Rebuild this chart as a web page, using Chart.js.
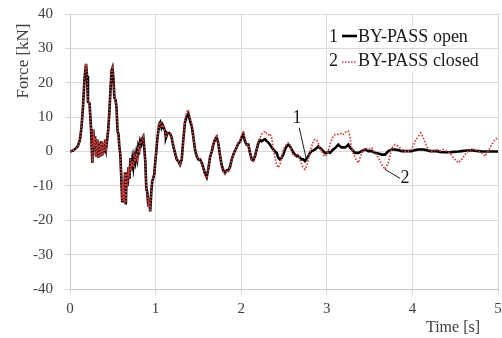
<!DOCTYPE html>
<html>
<head>
<meta charset="utf-8">
<script src="https://cdn.jsdelivr.net/npm/chart.js@4.4.1/dist/chart.umd.min.js"></script>
<style>
  html, body { margin: 0; padding: 0; background: #fff; }
  #wrap { width: 502px; height: 338px; }
</style>
</head>
<body>
<div id="wrap"><canvas id="force"></canvas></div>
<script>
// time [s]
var timeS = [
  0, 0.035, 0.058, 0.093, 0.117, 0.134, 0.152, 0.169, 0.187, 0.199,
  0.210, 0.228, 0.245, 0.261, 0.272, 0.283, 0.292, 0.304, 0.319, 0.331,
  0.342, 0.353, 0.364, 0.376, 0.388, 0.400, 0.411, 0.423, 0.435, 0.447,
  0.459, 0.471, 0.485, 0.496, 0.508, 0.518, 0.532, 0.543, 0.555, 0.567,
  0.576, 0.588, 0.599, 0.610, 0.619, 0.631, 0.643, 0.652, 0.662, 0.674,
  0.683, 0.694, 0.706, 0.716, 0.728, 0.739, 0.751, 0.763, 0.775, 0.786,
  0.798, 0.810, 0.821, 0.833, 0.845, 0.856, 0.868, 0.880, 0.891, 0.903,
  0.915, 0.926, 0.937, 0.949, 0.961, 0.973, 0.985, 0.996, 1.008, 1.020,
  1.032, 1.043, 1.055, 1.069, 1.081, 1.092, 1.110, 1.121, 1.137, 1.160,
  1.176, 1.188, 1.207, 1.227, 1.246, 1.265, 1.285, 1.305, 1.324, 1.343,
  1.363, 1.382, 1.402, 1.422, 1.440, 1.460, 1.480, 1.499, 1.519, 1.539,
  1.557, 1.577, 1.597, 1.616, 1.636, 1.655, 1.674, 1.694, 1.714, 1.732,
  1.752, 1.772, 1.791, 1.811, 1.831, 1.849, 1.869, 1.889, 1.908, 1.928,
  1.947, 1.966, 1.986, 2.006, 2.025, 2.044, 2.064, 2.083, 2.103, 2.123,
  2.141, 2.161, 2.181, 2.200, 2.220, 2.239, 2.258, 2.278, 2.298, 2.317,
  2.336, 2.356, 2.375, 2.395, 2.414, 2.433, 2.453, 2.473, 2.492, 2.512,
  2.531, 2.550, 2.570, 2.590, 2.609, 2.629, 2.648, 2.667, 2.687, 2.707,
  2.726, 2.745, 2.765, 2.784, 2.804, 2.824, 2.842, 2.862, 2.882, 2.901,
  2.921, 2.940, 2.959, 2.979, 2.999, 3.018, 3.037, 3.057, 3.076, 3.096,
  3.116, 3.134, 3.154, 3.174, 3.193, 3.213, 3.232, 3.251, 3.271, 3.291,
  3.329, 3.368, 3.408, 3.446, 3.485, 3.525, 3.563, 3.602, 3.641, 3.680,
  3.718, 3.758, 3.797, 3.835, 3.875, 3.914, 3.952, 3.992, 4.030, 4.069,
  4.097, 4.127, 4.167, 4.206, 4.244, 4.284, 4.322, 4.361, 4.401, 4.439,
  4.478, 4.536, 4.576, 4.614, 4.653, 4.693, 4.731, 4.770, 4.810, 4.848,
  4.887, 4.926, 4.965, 5.000
];

// 1 - BY-PASS open [kN]
var forceOpen = [
  0, 0.3, 0.7, 1.6, 3.5, 7, 13, 21, 25.5, 22,
  14.5, 14, 7, -3.3, 6.4, 1, 4.5, -1.5, 3.5, -1.8,
  2.5, -1.5, 3, -1.2, 2.5, -0.5, 3.5, 1, 3.5, 6.5,
  11, 17, 23.5, 24.3, 21, 15.7, 15, 13, 6, 5,
  1.5, -1, -7.5, -14.4, -8.5, -15, -6, -15.4, -6, -10,
  -4.5, -8, -2, -5.5, -2.5, -4.5, -1.5, -3, -0.5, -2,
  1.5, 0.5, 3, 2.2, 3.8, 4.3, 1, -3, -10.5, -12,
  -16, -13.5, -17.4, -12, -8.5, -7.8, -6.5, -3, 0, 3.5,
  6, 8, 8.5, 7, 7.8, 7.2, 6, 4, 5.2, 5.4,
  4.9, 4, 1.5, -0.4, -2.3, -2.8, -3.8, -2.3, 3.5, 8.5,
  10.3, 11, 9, 7.4, 4.4, 0.6, -1.4, -2.3, -2.3, -3.3,
  -4.7, -6.5, -7.5, -5, -1.6, -0.1, 2, 3.5, 4.2, 2.5,
  -1, -4, -5.5, -6.2, -5.5, -5.5, -4.5, -2.3, -0.9, 0.3,
  1.2, 2.3, 2.8, 4.2, 5, 3, 2, 2, -0.4, -2.3,
  -2.6, -1.4, 0.6, 2.5, 3.3, 3, 3.3, 3.6, 3, 2.6,
  2, 1.2, 0.6, 0, -0.4, -1.8, -2.3, -1.8, -0.9, 0.6,
  1.5, 2, 1.5, 0.6, -0.3, -0.9, -1.4, -1.4, -1.8, -2.3,
  -2.3, -2.8, -2, -1.4, -0.4, 0.1, 0.3, 0.6, 1, 1.5,
  1, 0.6, 0.1, -0.4, -0.4, -0.1, -0.4, 0.1, 0.6, 1,
  1.5, 2, 1.5, 1.2, 1.2, 1.2, 1.5, 2, 1.2, 0.6,
  -0.4, -0.4, 0.1, 0.6, 0.1, 0.1, -0.4, -0.6, -0.9, -0.9,
  0.1, 0.6, 0.6, 0.4, 0.1, 0.1, 0.1, 0.1, 0.4, 0.6,
  0.6, 0.6, 0.4, 0.1, 0.1, 0.1, -0.1, -0.2, -0.2, -0.2,
  -0.1, 0, 0.1, 0.2, 0.3, 0.4, 0.2, 0.1, 0, 0,
  0, 0, 0, 0
];

// 2 - BY-PASS closed [kN]
var forceClosed = [
  0, 0.3, 0.7, 1.6, 3.5, 7, 13, 21, 25.5, 22,
  14.5, 14, 7, -3.3, 6.4, 1, 4.5, -1.5, 3.5, -1.8,
  2.5, -1.5, 3, -1.2, 2.5, -0.5, 3.5, 1, 3.5, 6.5,
  11, 17, 23.5, 24.3, 21, 15.7, 15, 13, 6, 5,
  1.5, -1, -7.5, -14.4, -8.5, -15, -6, -15.4, -6, -10,
  -4.5, -8, -2, -5.5, -2.5, -4.5, -1.5, -3, -0.5, -2,
  1.5, 0.5, 3, 2.2, 3.8, 4.3, 1, -3, -10.5, -12,
  -16, -13.5, -17.4, -12, -8.5, -7.8, -6.5, -3, 0, 3.5,
  6, 8, 8.5, 7, 7.8, 7.2, 6, 4, 5.2, 5.4,
  4.9, 4, 1.5, -0.4, -2.3, -2.8, -3.8, -2.3, 3.5, 9,
  11.5, 12.2, 10, 8, 4.4, 0.6, -1.4, -2.3, -2.3, -3.3,
  -4.7, -6.8, -7.8, -5, -1.6, -0.1, 2, 3.5, 4.8, 2.5,
  -1, -4, -5.8, -6.6, -5.5, -5.8, -4.5, -2.3, -0.9, 0.3,
  1.2, 2.3, 2.8, 4.8, 6, 3.5, 2, 2, -0.4, -2.6,
  -2.8, -1.4, 0.6, 3, 4, 5, 5.5, 5.9, 5.2, 4.8,
  5.2, 4, 0.5, -1.8, -3.8, -4.7, -3.8, -1.5, 0.5, 1.5,
  2, 2.5, 2, 0, -1.3, -1.2, -0.9, -1, -2.3, -3.8,
  -4.7, -5.2, -4.3, -2.3, 0.1, 1.5, 3, 3.5, 3.3, 2.5,
  1, 0.1, -0.9, -1.4, -0.9, 0.1, 2, 3.5, 4.4, 4.9,
  5, 5, 5, 5.4, 5, 5.5, 5.8, 5.9, 4.4, 0.6,
  -1.8, -3.3, -0.5, 1, 0.6, 1, -0.4, -1.8, -3.8, -5.2,
  -3.3, 1, 2, 1.5, 0.6, 0.1, 0.1, 0.6, 3, 4.4,
  5.4, 4, 1.5, 0.1, 0.1, 0.6, 0.1, 0.6, 0.1, -0.4,
  -1.8, -3.3, -2.3, -0.9, 0.1, 0.6, 0.6, 0.1, -0.4, -1.4,
  0.1, 2, 3.5, 4
];

var seriesNames = ['BY-PASS open', 'BY-PASS closed'];
var seriesNumbers = ['1', '2'];
var axisTitles = ['Time [s]', 'Force [kN]'];

var serif = '"Liberation Serif", "Times New Roman", serif';
var gridGray = '#d9d9d9';
var textGray = '#404040';
var redDot = 'rgb(214, 64, 64)';

function pairs(xs, ys) {
  return xs.map(function (x, i) { return { x: x, y: ys[i] }; });
}

// legend, curve numbers and axis titles (Excel style)
var textPlugin = {
  id: 'textPlugin',
  afterDraw: function (chart) {
    var c = chart.ctx;
    var sx = chart.scales.x, sy = chart.scales.y;
    c.save();
    c.textBaseline = 'middle';

    // axis titles
    c.font = '16px ' + serif;
    c.fillStyle = textGray;
    c.textAlign = 'center';
    c.fillText(axisTitles[0], 453, 328);
    c.save();
    c.font = '17px ' + serif;
    c.translate(24, 61);
    c.rotate(-Math.PI / 2);
    c.fillText(axisTitles[1], 0, 0);
    c.restore();

    // legend
    c.font = '18px ' + serif;
    c.fillStyle = '#fff';
    c.fillRect(329, 26, 160, 21);
    c.fillRect(329, 50, 160, 22);
    c.fillStyle = '#1a1a1a';
    c.textAlign = 'left';
    c.fillText(seriesNumbers[0], 329, 37);
    c.fillText(seriesNames[0], 358, 37);
    c.fillText(seriesNumbers[1], 329, 61);
    c.fillText(seriesNames[1], 358, 61);
    c.strokeStyle = '#000';
    c.lineWidth = 2.6;
    c.beginPath(); c.moveTo(342, 36); c.lineTo(357, 36); c.stroke();
    c.strokeStyle = redDot;
    c.lineWidth = 1.6;
    c.setLineDash([1.5, 1.5]);
    c.beginPath(); c.moveTo(342, 62); c.lineTo(357, 62); c.stroke();
    c.setLineDash([]);

    // curve numbers with leader lines
    c.strokeStyle = '#1a1a1a';
    c.lineWidth = 1;
    c.textAlign = 'center';
    c.fillText(seriesNumbers[0], sx.getPixelForValue(2.652), sy.getPixelForValue(9.6));
    c.beginPath();
    c.moveTo(sx.getPixelForValue(2.679), sy.getPixelForValue(6.9));
    c.lineTo(sx.getPixelForValue(2.763), sy.getPixelForValue(-2.5));
    c.stroke();
    c.fillText(seriesNumbers[1], sx.getPixelForValue(3.914), sy.getPixelForValue(-7.8));
    c.beginPath();
    c.moveTo(sx.getPixelForValue(3.68), sy.getPixelForValue(-5.2));
    c.lineTo(sx.getPixelForValue(3.855), sy.getPixelForValue(-7.8));
    c.stroke();
    c.restore();
  }
};

new Chart(document.getElementById('force'), {
  type: 'line',
  data: {
    datasets: [{
      label: seriesNames[1],
      data: pairs(timeS, forceClosed),
      borderColor: redDot,
      borderWidth: 1.7,
      borderDash: [1.6, 1.6],
      pointRadius: 0,
      order: 0
    }, {
      label: seriesNames[0],
      data: pairs(timeS, forceOpen),
      borderColor: '#000',
      borderWidth: 2.6,
      pointRadius: 0,
      order: 1
    }]
  },
  options: {
    responsive: true,
    maintainAspectRatio: false,
    animation: false,
    layout: { autoPadding: false, padding: { top: 14, right: 4, left: 0, bottom: 0 } },
    plugins: { legend: { display: false }, tooltip: { enabled: false } },
    scales: {
      x: {
        type: 'linear',
        min: 0,
        max: 5,
        afterFit: function (s) {
          s.height = 49;
          s.paddingLeft = 0; s.paddingRight = 0;
        },
        ticks: { stepSize: 1, padding: 6, maxRotation: 0, color: textGray, font: { family: serif, size: 15 } },
        grid: { color: gridGray, tickColor: gridGray, tickLength: 5 },
        border: { color: '#c8c8c8' }
      },
      y: {
        min: -40,
        max: 40,
        afterFit: function (s) {
          s.width = 70;
          s.paddingTop = 0; s.paddingBottom = 0;
        },
        ticks: { stepSize: 10, padding: 12, color: textGray, font: { family: serif, size: 15 } },
        grid: { color: gridGray, tickColor: gridGray, tickLength: 5 },
        border: { color: '#c8c8c8' }
      }
    }
  },
  plugins: [textPlugin]
});
</script>
</body>
</html>
